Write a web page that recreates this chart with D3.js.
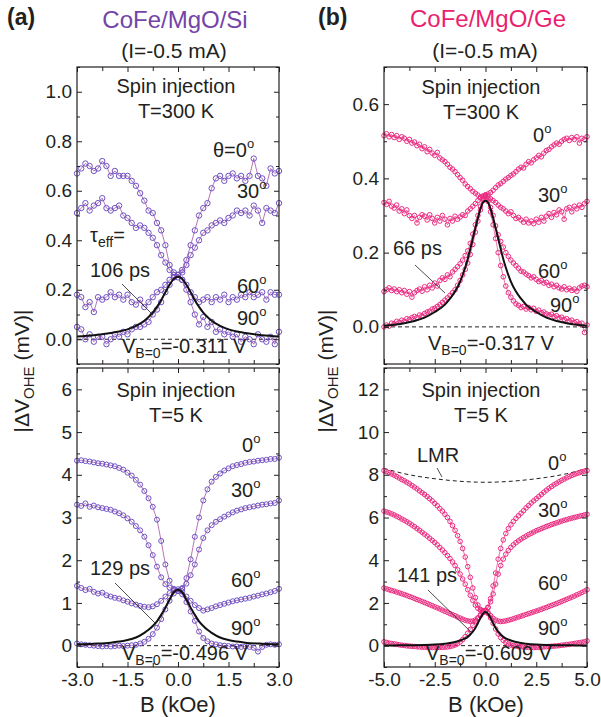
<!DOCTYPE html>
<html>
<head>
<meta charset="utf-8">
<script src="https://cdn.jsdelivr.net/npm/d3@7"></script>
<style>
  body { margin: 0; background: #fff; }
  text { font-family: "Liberation Sans", Arial, Helvetica, sans-serif; }
</style>
</head>
<body>
<svg id="chart" width="601" height="717"></svg>
<script>
// ---- field grids (kOe) ----
const fieldA = [-3,-2.875,-2.75,-2.625,-2.5,-2.375,-2.25,-2.125,
  -2,-1.875,-1.75,-1.625,-1.5,-1.375,-1.25,-1.125,
  -1,-0.875,-0.75,-0.625,-0.5,-0.375,-0.25,-0.125,
  0,
  0.125,0.25,0.375,0.5,0.625,0.75,0.875,1,
  1.125,1.25,1.375,1.5,1.625,1.75,1.875,2,
  2.125,2.25,2.375,2.5,2.625,2.75,2.875,3]

const fieldB = [-5,-4.875,-4.75,-4.625,-4.5,-4.375,-4.25,-4.125,
  -4,-3.875,-3.75,-3.625,-3.5,-3.375,-3.25,-3.125,
  -3,-2.875,-2.75,-2.625,-2.5,-2.375,-2.25,-2.125,
  -2,-1.875,-1.75,-1.625,-1.5,-1.375,-1.25,-1.125,
  -1,-0.875,-0.75,-0.625,-0.5,-0.375,-0.25,-0.125,
  0,
  0.125,0.25,0.375,0.5,0.625,0.75,0.875,1,
  1.125,1.25,1.375,1.5,1.625,1.75,1.875,2,
  2.125,2.25,2.375,2.5,2.625,2.75,2.875,3,
  3.125,3.25,3.375,3.5,3.625,3.75,3.875,4,
  4.125,4.25,4.375,4.5,4.625,4.75,4.875,5]

const fitFieldA = [-3,-2.5,-2,-1.75,-1.5,-1.25,-1,-0.875,-0.75,-0.625,-0.5,-0.375,-0.25,-0.125,0,
  0.125,0.25,0.375,0.5,0.625,0.75,0.875,1,1.25,1.5,1.75,2,2.5,3]
const fitFieldB = [-5,-4.5,-4,-3.5,-3,-2.5,-2,-1.75,-1.5,-1.25,-1,-0.875,-0.75,-0.625,-0.5,-0.375,-0.25,-0.125,0,
  0.125,0.25,0.375,0.5,0.625,0.75,0.875,1,1.25,1.5,1.75,2,2.5,3,3.5,4,4.5,5]

// ---- (a) CoFe/MgO/Si, T=300 K (mV) ----
const siRT0 = [0.67,0.69,0.71,0.70,0.68,0.69,0.72,0.70,
  0.66,0.68,0.66,0.66,0.66,0.64,0.62,0.59,
  0.56,0.52,0.51,0.47,0.44,0.38,0.30,0.27,
  0.26,
  0.28,0.32,0.38,0.44,0.50,0.53,0.55,0.61,
  0.65,0.66,0.64,0.66,0.67,0.65,0.66,0.64,
  0.66,0.73,0.66,0.65,0.62,0.69,0.67,0.68]
const siRT30 = [0.51,0.53,0.55,0.52,0.54,0.55,0.57,0.53,
  0.52,0.53,0.54,0.50,0.49,0.47,0.45,0.46,
  0.45,0.43,0.41,0.38,0.34,0.31,0.28,0.26,
  0.25,
  0.27,0.30,0.34,0.37,0.40,0.43,0.44,0.46,
  0.47,0.48,0.47,0.49,0.50,0.52,0.51,0.52,
  0.50,0.54,0.52,0.47,0.53,0.52,0.51,0.55]
const siRT60 = [0.18,0.17,0.13,0.15,0.11,0.17,0.16,0.17,
  0.19,0.17,0.18,0.16,0.18,0.15,0.14,0.16,
  0.13,0.15,0.17,0.19,0.20,0.22,0.24,0.25,
  0.26,
  0.24,0.22,0.19,0.17,0.15,0.16,0.17,0.15,
  0.17,0.16,0.18,0.15,0.17,0.16,0.18,0.17,
  0.19,0.17,0.18,0.19,0.16,0.19,0.18,0.18]
const siRT90 = [0.05,0.04,0.00,0.02,-0.01,0.01,0.01,-0.02,
  0.00,0.02,0.01,0.03,0.02,0.04,0.05,0.05,
  0.06,0.07,0.10,0.12,0.15,0.19,0.22,0.25,
  0.26,
  0.24,0.20,0.15,0.10,0.06,0.09,0.05,0.07,
  0.03,0.04,0.02,0.03,0.01,0.02,-0.01,0.01,
  0.00,-0.02,0.02,0.00,-0.01,0.01,-0.02,0.03]
const siRTFit = [0.011,0.016,0.025,0.031,0.040,0.054,0.075,0.090,0.108,0.131,0.158,0.190,0.220,0.244,0.253,
  0.244,0.220,0.190,0.158,0.131,0.108,0.090,0.075,0.054,0.040,0.031,0.025,0.016,0.011]

// ---- (a) CoFe/MgO/Si, T=5 K (mV) ----
const siLT0 = [4.33,4.34,4.32,4.31,4.29,4.27,4.26,4.24,
  4.22,4.20,4.16,4.12,4.05,3.98,3.88,3.77,
  3.62,3.45,3.25,2.95,2.45,1.90,1.52,1.33,
  1.28,
  1.35,1.58,2.02,2.55,3.00,3.40,3.66,3.84,
  3.95,4.03,4.10,4.15,4.20,4.23,4.25,4.28,
  4.30,4.31,4.33,4.34,4.35,4.37,4.37,4.40]
const siLT30 = [3.30,3.27,3.33,3.25,3.28,3.24,3.22,3.20,
  3.18,3.14,3.10,3.05,2.98,2.90,2.80,2.70,
  2.55,2.35,2.12,1.85,1.60,1.44,1.36,1.30,
  1.28,
  1.33,1.45,1.65,1.90,2.25,2.52,2.70,2.82,
  2.90,2.96,3.02,3.07,3.12,3.16,3.19,3.22,
  3.24,3.26,3.28,3.30,3.31,3.33,3.34,3.40]
const siLT60 = [1.40,1.35,1.30,1.33,1.26,1.22,1.24,1.18,
  1.15,1.12,1.10,1.06,1.03,0.99,0.96,0.93,
  0.91,0.90,0.92,0.97,1.05,1.15,1.23,1.30,
  1.32,
  1.27,1.15,1.05,0.95,0.88,0.82,0.85,0.88,
  0.92,0.95,0.98,1.01,1.04,1.06,1.08,1.10,
  1.12,1.15,1.17,1.20,1.22,1.25,1.28,1.33]
const siLT90 = [0.05,0.03,0.02,0.01,0.00,-0.01,-0.02,-0.01,
  -0.02,-0.01,0.00,-0.01,0.00,0.01,0.02,0.05,
  0.09,0.16,0.27,0.42,0.62,0.85,1.05,1.22,
  1.28,
  1.20,1.02,0.80,0.58,0.33,0.18,0.10,0.05,
  0.03,0.01,0.00,-0.01,-0.02,-0.02,-0.03,-0.02,
  -0.03,-0.05,-0.14,-0.03,0.02,0.03,0.02,0.03]
const siLTFit = [0.03,0.045,0.07,0.095,0.13,0.19,0.30,0.37,0.46,0.57,0.72,0.89,1.08,1.25,1.31,
  1.25,1.08,0.89,0.72,0.57,0.46,0.37,0.30,0.19,0.13,0.095,0.07,0.045,0.03]

// ---- (b) CoFe/MgO/Ge, T=300 K (mV) ----
const geRT0 = [0.515,0.520,0.512,0.518,0.510,0.515,0.505,0.512,
  0.508,0.500,0.505,0.495,0.498,0.488,0.492,0.480,
  0.485,0.472,0.478,0.468,0.462,0.470,0.455,0.450,
  0.445,0.438,0.430,0.425,0.418,0.410,0.402,0.395,
  0.385,0.378,0.372,0.365,0.360,0.355,0.350,0.352,
  0.355,
  0.358,0.362,0.368,0.375,0.382,0.386,0.392,0.398,
  0.402,0.408,0.412,0.418,0.425,0.430,0.428,0.438,
  0.445,0.442,0.450,0.455,0.462,0.458,0.468,0.475,
  0.478,0.485,0.490,0.495,0.492,0.500,0.505,0.508,
  0.502,0.510,0.505,0.512,0.495,0.508,0.505,0.512]
const geRT30 = [0.335,0.330,0.338,0.325,0.320,0.328,0.312,0.318,
  0.305,0.315,0.300,0.292,0.300,0.280,0.295,0.302,
  0.298,0.288,0.302,0.292,0.280,0.295,0.285,0.300,
  0.290,0.275,0.292,0.285,0.298,0.290,0.296,0.302,
  0.300,0.312,0.318,0.325,0.332,0.340,0.348,0.352,
  0.355,
  0.352,0.345,0.340,0.335,0.328,0.322,0.318,0.312,
  0.305,0.310,0.300,0.292,0.295,0.288,0.282,0.290,
  0.280,0.285,0.278,0.290,0.282,0.295,0.285,0.298,
  0.305,0.295,0.308,0.302,0.315,0.310,0.290,0.318,
  0.322,0.310,0.325,0.318,0.328,0.322,0.332,0.338]
const geRT60 = [0.095,0.100,0.105,0.098,0.102,0.095,0.100,0.092,
  0.098,0.088,0.095,0.080,0.092,0.098,0.102,0.096,
  0.108,0.100,0.112,0.105,0.118,0.110,0.125,0.132,
  0.128,0.140,0.135,0.148,0.155,0.162,0.170,0.180,
  0.192,0.205,0.225,0.250,0.275,0.300,0.325,0.345,
  0.355,
  0.345,0.322,0.300,0.272,0.248,0.230,0.215,0.200,
  0.190,0.180,0.172,0.165,0.158,0.150,0.148,0.142,
  0.138,0.132,0.135,0.128,0.122,0.125,0.118,0.120,
  0.112,0.115,0.108,0.112,0.105,0.102,0.108,0.100,
  0.104,0.098,0.102,0.096,0.105,0.110,0.112,0.108]
const geRT90 = [0.000,0.005,0.002,0.010,0.008,0.015,0.012,0.018,
  0.015,0.022,0.020,0.025,0.028,0.025,0.032,0.030,
  0.036,0.040,0.042,0.048,0.050,0.055,0.060,0.066,
  0.072,0.078,0.085,0.092,0.100,0.112,0.125,0.140,
  0.155,0.172,0.195,0.222,0.255,0.285,0.315,0.340,
  0.352,
  0.338,0.310,0.275,0.238,0.200,0.165,0.135,0.110,
  0.092,0.080,0.070,0.062,0.058,0.052,0.055,0.048,
  0.052,0.046,0.050,0.042,0.045,0.038,0.040,0.035,
  0.032,0.034,0.028,0.030,0.024,0.026,0.020,0.022,
  0.016,0.018,0.012,0.014,0.008,0.010,-0.015,0.005]
const geRTFit = [0.003,0.006,0.010,0.016,0.025,0.040,0.060,0.076,0.095,0.122,0.160,0.183,0.210,0.238,0.266,0.293,0.318,0.335,0.340,
  0.335,0.318,0.293,0.266,0.238,0.210,0.183,0.160,0.122,0.095,0.076,0.060,0.040,0.025,0.016,0.010,0.006,0.003]

// ---- (b) CoFe/MgO/Ge, T=5 K (mV) ----
const geLT0 = [8.20,8.15,8.10,8.04,7.98,7.92,7.85,7.78,
  7.72,7.65,7.58,7.50,7.42,7.34,7.25,7.16,
  7.08,6.98,6.88,6.78,6.66,6.55,6.42,6.30,
  6.15,6.00,5.82,5.62,5.40,5.15,4.88,4.55,
  4.15,3.70,3.20,2.70,2.25,1.90,1.70,1.62,
  1.65,
  1.78,2.20,2.80,3.40,4.05,4.55,4.95,5.25,
  5.48,5.66,5.82,5.96,6.08,6.20,6.32,6.45,
  6.56,6.68,6.78,6.88,6.98,7.08,7.18,7.28,
  7.37,7.45,7.53,7.60,7.67,7.74,7.80,7.86,
  7.92,7.97,8.02,8.06,8.10,8.14,8.17,8.20]
const geLT30 = [6.30,6.26,6.22,6.17,6.12,6.06,6.00,5.93,
  5.87,5.80,5.73,5.65,5.57,5.48,5.40,5.31,
  5.22,5.13,5.03,4.93,4.83,4.72,4.60,4.48,
  4.35,4.22,4.08,3.92,3.75,3.55,3.35,3.12,
  2.88,2.62,2.36,2.12,1.90,1.75,1.66,1.62,
  1.65,
  1.80,2.05,2.42,2.88,3.35,3.75,4.05,4.28,
  4.46,4.60,4.72,4.82,4.91,4.99,5.06,5.13,
  5.20,5.26,5.32,5.38,5.43,5.48,5.53,5.58,
  5.62,5.67,5.71,5.75,5.79,5.83,5.87,5.90,
  5.94,5.97,6.00,6.03,6.06,6.09,6.12,6.15]
const geLT60 = [2.70,2.66,2.62,2.58,2.55,2.51,2.47,2.43,
  2.39,2.35,2.30,2.26,2.21,2.16,2.12,2.07,
  2.02,1.97,1.92,1.87,1.82,1.77,1.72,1.66,
  1.61,1.56,1.50,1.45,1.40,1.34,1.29,1.24,
  1.19,1.16,1.14,1.15,1.20,1.28,1.40,1.55,
  1.65,
  1.55,1.40,1.28,1.20,1.15,1.13,1.14,1.16,
  1.19,1.22,1.26,1.30,1.34,1.38,1.42,1.46,
  1.50,1.54,1.58,1.62,1.66,1.70,1.75,1.79,
  1.84,1.88,1.93,1.97,2.02,2.07,2.12,2.17,
  2.22,2.27,2.32,2.38,2.43,2.49,2.55,2.62]
const geLT90 = [0.18,0.15,0.12,0.10,0.08,0.06,0.04,0.02,
  0.01,-0.01,-0.02,-0.03,-0.04,-0.05,-0.06,-0.07,
  -0.07,-0.08,-0.08,-0.09,-0.09,-0.09,-0.08,-0.08,
  -0.07,-0.06,-0.04,-0.01,0.03,0.09,0.17,0.28,
  0.42,0.58,0.76,0.95,1.13,1.30,1.44,1.55,
  1.60,
  1.50,1.30,1.05,0.78,0.55,0.38,0.25,0.15,
  0.08,0.03,0.00,-0.02,-0.04,-0.05,-0.06,-0.07,
  -0.08,-0.08,-0.09,-0.08,-0.08,-0.07,-0.06,-0.05,
  -0.04,-0.03,-0.02,-0.01,0.00,0.02,0.03,0.05,
  0.06,0.08,0.10,0.12,0.14,0.16,0.18,0.22]
const geLTFit = [0.01,0.012,0.015,0.02,0.03,0.05,0.09,0.12,0.17,0.24,0.34,0.41,0.52,0.66,0.83,1.05,1.29,1.49,1.57,
  1.49,1.29,1.05,0.83,0.66,0.52,0.41,0.34,0.24,0.17,0.12,0.09,0.05,0.03,0.02,0.015,0.012,0.01]

// local magnetoresistance background (dashed)
const lmrField = [-5,-4,-3,-2,-1,0,1,2,3,4,5]
const lmrValues = [8.30,8.05,7.88,7.76,7.68,7.65,7.68,7.76,7.88,8.05,8.30]

// ---- tick values ----
const xTicksA = [-3, -1.5, 0, 1.5, 3]
const xMinorA = [-2.25, -0.75, 0.75, 2.25]
const xTicksB = [-5, -2.5, 0, 2.5, 5]
const xMinorB = [-3.75, -1.25, 1.25, 3.75]
const yTicksSiRT = [0, 0.2, 0.4, 0.6, 0.8, 1.0]
const yMinorSiRT = [-0.1, 0.1, 0.3, 0.5, 0.7, 0.9, 1.1]
const yTicksSiLT = [0, 1, 2, 3, 4, 5, 6]
const yMinorSiLT = [-0.5, 0.5, 1.5, 2.5, 3.5, 4.5, 5.5]
const yTicksGeRT = [0, 0.2, 0.4, 0.6]
const yMinorGeRT = [-0.1, 0.1, 0.3, 0.5, 0.7]
const yTicksGeLT = [0, 2, 4, 6, 8, 10, 12]
const yMinorGeLT = [-1, 1, 3, 5, 7, 9, 11, 13]

function drawChart() {
  const svg = d3.select("#chart")

  const purple = "#6c52c4", purpleLine = "#9a3a98", purpleTitle = "#7444a8"
  const pink = "#ec2a80", pinkLine = "#e23a86", pinkTitle = "#ea1f6e"
  const ink = "#231f20"
  const deg = '<tspan dy="-9" font-size="13">o</tspan>'

  // Set dimensions
  const cols = {
    a: {left: 77, right: 279},
    b: {left: 384, right: 587},
  }
  const rows = {
    top: {top: 67, bottom: 364},
    bot: {top: 368, bottom: 667},
  }

  function drawPanel(p) {
    const x = d3.scaleLinear().domain(p.xDomain).range([p.left, p.right])
    const y = d3.scaleLinear().domain(p.yDomain).range([p.bottom, p.top])
    const g = svg.append("g")

    // zero line
    g.append("line")
      .attr("x1", p.left).attr("x2", p.right)
      .attr("y1", y(0)).attr("y2", y(0))
      .attr("stroke", ink).attr("stroke-width", 1)
      .attr("stroke-dasharray", "4,3")

    const line = d3.line().x(d => x(d[0])).y(d => y(d[1]))
    const smooth = d3.line().x(d => x(d[0])).y(d => y(d[1])).curve(d3.curveMonotoneX)

    if (p.lmr) {
      g.append("path")
        .datum(p.lmr[0].map((b, i) => [b, p.lmr[1][i]]))
        .attr("d", d3.line().x(d => x(d[0])).y(d => y(d[1])).curve(d3.curveNatural))
        .attr("fill", "none").attr("stroke", ink).attr("stroke-width", 1)
        .attr("stroke-dasharray", "4,3")
    }

    // Draw Data
    p.series.forEach(values => {
      const pts = p.field.map((b, i) => [b, values[i]])
      g.append("path").datum(pts)
        .attr("d", line)
        .attr("fill", "none")
        .attr("stroke", p.lineColor)
        .attr("stroke-width", 0.7)
      g.append("g").selectAll("circle")
        .data(pts)
        .join("circle")
          .attr("cx", d => x(d[0]))
          .attr("cy", d => y(d[1]))
          .attr("r", p.radius)
          .attr("fill", "none")
          .attr("stroke", p.markerColor)
          .attr("stroke-width", 1)
    })

    // Lorentzian fit
    g.append("path")
      .datum(p.fitField.map((b, i) => [b, p.fit[i]]))
      .attr("d", smooth)
      .attr("fill", "none")
      .attr("stroke", "#111")
      .attr("stroke-width", 2)

    g.append("rect")
      .attr("x", p.left).attr("y", p.top)
      .attr("width", p.right - p.left).attr("height", p.bottom - p.top)
      .attr("fill", "none").attr("stroke", ink).attr("stroke-width", 1.2)

    // axes, ticks pointing inward
    const xFmt = d => d.toFixed(1)
    const axes = [
      [d3.axisBottom(x).tickValues(p.xTicks).tickSize(-5).tickPadding(6).tickFormat(p.showX ? xFmt : ""), `translate(0,${p.bottom})`],
      [d3.axisBottom(x).tickValues(p.xMinor).tickSize(-4).tickFormat(""), `translate(0,${p.bottom})`],
      [d3.axisTop(x).tickValues(p.xTicks).tickSize(-5).tickFormat(""), `translate(0,${p.top})`],
      [d3.axisTop(x).tickValues(p.xMinor).tickSize(-4).tickFormat(""), `translate(0,${p.top})`],
      [d3.axisLeft(y).tickValues(p.yTicks).tickSize(-5).tickPadding(5).tickFormat(p.yFormat), `translate(${p.left},0)`],
      [d3.axisLeft(y).tickValues(p.yMinor).tickSize(-3).tickFormat(""), `translate(${p.left},0)`],
      [d3.axisRight(y).tickValues(p.yTicks).tickSize(-5).tickFormat(""), `translate(${p.right},0)`],
      [d3.axisRight(y).tickValues(p.yMinor).tickSize(-3).tickFormat(""), `translate(${p.right},0)`],
    ]
    axes.forEach(([axis, tr]) => {
      const ag = g.append("g").attr("transform", tr).call(axis)
      ag.select(".domain").remove()
      ag.selectAll("line").attr("stroke", ink).attr("stroke-width", 1)
      ag.selectAll("text")
        .attr("fill", ink)
        .style("font-size", "19px")
        .style("font-family", '"Liberation Sans", Arial, sans-serif')
    })
  }

  drawPanel({
    ...cols.a, ...rows.top, xDomain: [-3, 3], yDomain: [-0.1, 1.1],
    field: fieldA, series: [siRT0, siRT30, siRT60, siRT90],
    fitField: fitFieldA, fit: siRTFit,
    xTicks: xTicksA, xMinor: xMinorA, yTicks: yTicksSiRT, yMinor: yMinorSiRT,
    yFormat: d => d.toFixed(1), showX: false,
    markerColor: purple, lineColor: purpleLine, radius: 2.7,
  })
  drawPanel({
    ...cols.a, ...rows.bot, xDomain: [-3, 3], yDomain: [-0.5, 6.5],
    field: fieldA, series: [siLT0, siLT30, siLT60, siLT90],
    fitField: fitFieldA, fit: siLTFit,
    xTicks: xTicksA, xMinor: xMinorA, yTicks: yTicksSiLT, yMinor: yMinorSiLT,
    yFormat: d => d, showX: true,
    markerColor: purple, lineColor: purpleLine, radius: 2.5,
  })
  drawPanel({
    ...cols.b, ...rows.top, xDomain: [-5, 5], yDomain: [-0.1, 0.7],
    field: fieldB, series: [geRT0, geRT30, geRT60, geRT90],
    fitField: fitFieldB, fit: geRTFit,
    xTicks: xTicksB, xMinor: xMinorB, yTicks: yTicksGeRT, yMinor: yMinorGeRT,
    yFormat: d => d.toFixed(1), showX: false,
    markerColor: pink, lineColor: pinkLine, radius: 2.3,
  })
  drawPanel({
    ...cols.b, ...rows.bot, xDomain: [-5, 5], yDomain: [-1, 13],
    field: fieldB, series: [geLT0, geLT30, geLT60, geLT90],
    fitField: fitFieldB, fit: geLTFit, lmr: [lmrField, lmrValues],
    xTicks: xTicksB, xMinor: xMinorB, yTicks: yTicksGeLT, yMinor: yMinorGeLT,
    yFormat: d => d, showX: true,
    markerColor: pink, lineColor: pinkLine, radius: 2.3,
  })

  // Labels
  function note(x, y, html, opts = {}) {
    return svg.append("text")
      .attr("x", x).attr("y", y)
      .attr("font-size", opts.size || 20)
      .attr("text-anchor", opts.anchor || "start")
      .attr("font-weight", opts.weight || null)
      .attr("fill", opts.color || ink)
      .html(html)
  }
  function pointer(x1, y1, x2, y2) {
    svg.append("line")
      .attr("x1", x1).attr("y1", y1).attr("x2", x2).attr("y2", y2)
      .attr("stroke", ink).attr("stroke-width", 0.8)
  }
  const vb = v => `V<tspan dy="5" font-size="14">B=0</tspan><tspan dy="-5">=${v} V</tspan>`

  // headers
  note(7, 25, "(a)", {size: 23, weight: "bold"})
  note(175, 28, "CoFe/MgO/Si", {size: 24, anchor: "middle", color: purpleTitle})
  note(174, 58, "(I=-0.5 mA)", {size: 21, anchor: "middle"})
  note(318, 25, "(b)", {size: 23, weight: "bold"})
  note(488, 27, "CoFe/MgO/Ge", {size: 24, anchor: "middle", color: pinkTitle})
  note(485, 58, "(I=-0.5 mA)", {size: 21, anchor: "middle"})

  // (a) 300 K
  note(176, 93, "Spin injection", {anchor: "middle"})
  note(176, 118, "T=300 K", {anchor: "middle"})
  note(213, 157, "θ=0" + deg)
  note(237, 198, "30" + deg)
  note(237, 293, "60" + deg)
  note(237, 325, "90" + deg)
  note(90, 242, 'τ<tspan dy="5" font-size="14">eff</tspan><tspan dy="-5">=</tspan>')
  note(90, 277, "106 ps")
  pointer(122, 284, 153, 315)
  note(122, 353, vb("-0.311"))

  // (b) 300 K
  note(481, 94, "Spin injection", {anchor: "middle"})
  note(481, 119, "T=300 K", {anchor: "middle"})
  note(533, 142, "0" + deg)
  note(538, 202, "30" + deg)
  note(538, 278, "60" + deg)
  note(550, 312, "90" + deg)
  note(393, 255, "66 ps")
  pointer(415, 265, 445, 293)
  note(428, 350, vb("-0.317"))

  // (a) 5 K
  note(176, 397, "Spin injection", {anchor: "middle"})
  note(176, 422, "T=5 K", {anchor: "middle"})
  note(242, 452, "0" + deg)
  note(231, 497, "30" + deg)
  note(231, 587, "60" + deg)
  note(231, 635, "90" + deg)
  note(90, 575, "129 ps")
  pointer(115, 583, 155, 623)
  note(122, 660, vb("-0.496"))

  // (b) 5 K
  note(481, 397, "Spin injection", {anchor: "middle"})
  note(481, 422, "T=5 K", {anchor: "middle"})
  note(417, 462, "LMR")
  pointer(437, 468, 442, 477)
  note(548, 470, "0" + deg)
  note(538, 517, "30" + deg)
  note(538, 590, "60" + deg)
  note(538, 635, "90" + deg)
  note(397, 582, "141 ps")
  pointer(428, 590, 472, 633)
  note(426, 660, vb("-0.609"))

  // axis titles
  note(178, 712, "B (kOe)", {size: 22, anchor: "middle"})
  note(486, 712, "B (kOe)", {size: 22, anchor: "middle"})
  const yTitle = '|ΔV<tspan dy="5" font-size="15">OHE</tspan><tspan dy="-5"> (mV)|</tspan>'
  svg.append("text")
    .attr("transform", "translate(29,371) rotate(-90)")
    .attr("text-anchor", "middle").attr("font-size", 21).attr("fill", ink)
    .html(yTitle)
  svg.append("text")
    .attr("transform", "translate(333,371) rotate(-90)")
    .attr("text-anchor", "middle").attr("font-size", 21).attr("fill", ink)
    .html(yTitle)
}
drawChart()
</script>
</body>
</html>
